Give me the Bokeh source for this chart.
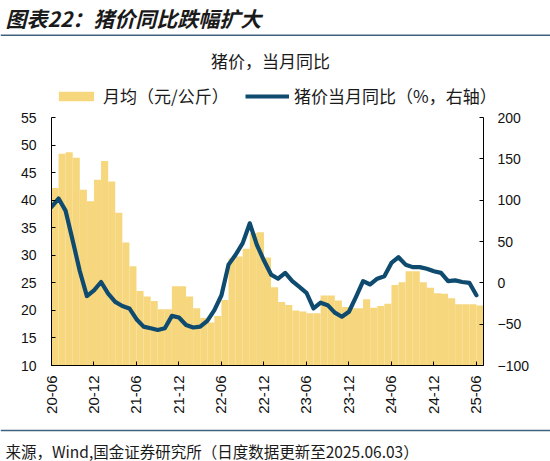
import math
from bokeh.plotting import figure
from bokeh.layouts import column
from bokeh.models import (Range1d, LinearAxis, FixedTicker, Label, Span, Legend, LegendItem,
                          ColumnDataSource)
from bokeh.embed import file_html
from bokeh.resources import INLINE

# ---------------- data ----------------
months = [
    "20-06", "20-07", "20-08", "20-09", "20-10", "20-11", "20-12",
    "21-01", "21-02", "21-03", "21-04", "21-05", "21-06", "21-07", "21-08", "21-09", "21-10", "21-11", "21-12",
    "22-01", "22-02", "22-03", "22-04", "22-05", "22-06", "22-07", "22-08", "22-09", "22-10", "22-11", "22-12",
    "23-01", "23-02", "23-03", "23-04", "23-05", "23-06", "23-07", "23-08", "23-09", "23-10", "23-11", "23-12",
    "24-01", "24-02", "24-03", "24-04", "24-05", "24-06", "24-07", "24-08", "24-09", "24-10", "24-11", "24-12",
    "25-01", "25-02", "25-03", "25-04", "25-05", "25-06",
]

# 月均（元/公斤）
price = [
    42.2, 48.4, 48.7, 47.7, 41.9, 39.8, 43.7,
    47.1, 43.4, 37.7, 32.3, 28.0, 23.5, 22.5, 21.7, 20.2, 20.2, 24.4, 24.4,
    22.5, 20.4, 18.6, 17.8, 19.0, 21.9, 29.4, 29.8, 31.2, 34.0, 34.2, 29.6,
    24.2, 21.5, 21.0, 20.0, 19.8, 19.5, 19.5, 22.7, 22.7, 21.8, 20.6, 20.4,
    20.4, 22.0, 20.5, 20.8, 21.2, 24.6, 25.1, 27.1, 27.1, 25.1, 24.1, 23.1,
    23.0, 22.2, 21.1, 21.1, 21.1, 20.9,
]

# 猪价当月同比（%，右轴）
yoy = [
    92, 102, 87, 51, 14, -16, -9,
    1, -13, -23, -28, -31, -44, -53, -55, -57, -55, -40, -42,
    -51, -54, -53, -46, -33, -15, 22, 34, 48, 72, 46, 27,
    10, 5, 12, 2, -5, -12, -31, -24, -27, -36, -41, -35,
    -17, 2, -2, 5, 8, 24, 31, 22, 19, 19, 17, 14,
    12, 2, 3, 1, 0, -15,
]

tick_months = ["20-06", "20-12", "21-06", "21-12", "22-06", "22-12",
               "23-06", "23-12", "24-06", "24-12", "25-06"]
left_ticks = [10, 15, 20, 25, 30, 35, 40, 45, 50, 55]
right_ticks = [-100, -50, 0, 50, 100, 150, 200]

title_text = "图表22：猪价同比跌幅扩大"
subtitle_text = "猪价，当月同比"
legend_bar = "月均（元/公斤）"
legend_line = "猪价当月同比（%，右轴）"
footer_text = "来源，Wind,国金证券研究所（日度数据更新至2025.06.03）"

# ---------------- styles ----------------
BAR_COLOR = "#F6D77E"
LINE_COLOR = "#0E4B6F"
RULE_COLOR = "#40607F"
TEXT_COLOR = "#1a1a1a"
CJK = "Noto Sans CJK SC"
NUM = "Liberation Sans"
W = 550
HDR_H = 108
FTR_H = 33

n = len(months)
src = ColumnDataSource(data=dict(
    bar_x=[i + 0.5 for i in range(n)],
    line_x=[i for i in range(n)],
    price=price,
    yoy=yoy,
))


def bare_fig(h):
    f = figure(frame_width=W, frame_height=h, x_range=Range1d(0, W), y_range=Range1d(h, 0),
               output_backend="svg", toolbar_location=None, frame_align=False,
               min_border_left=0, min_border_right=0, min_border_top=0, min_border_bottom=0,
               x_axis_type=None, y_axis_type=None)
    f.outline_line_color = None
    f.grid.visible = False
    return f


# ---------------- header: title, subtitle, legend ----------------
hdr = bare_fig(HDR_H)
hdr.add_layout(Label(x=5, y=17, text=title_text, text_font=CJK, text_font_size="21px",
                     text_font_style="bold italic", text_color=TEXT_COLOR,
                     text_baseline="middle", text_align="left"))
hdr.add_layout(Span(location=34.7, dimension="width", line_color=RULE_COLOR, line_width=1.6))
hdr.add_layout(Label(x=270, y=60, text=subtitle_text, text_font=CJK, text_font_size="17px",
                     text_color=TEXT_COLOR, text_baseline="middle", text_align="center"))

# legend swatches reuse the chart's own data (hidden renderers, legend only)
leg_bar_r = hdr.vbar(x="bar_x", top="price", width=1, source=src,
                     fill_color=BAR_COLOR, line_color=None, visible=False)
leg_line_r = hdr.line(x="line_x", y="yoy", source=src,
                      line_color=LINE_COLOR, line_width=4.2, visible=False)


def make_legend(label, r, x):
    return Legend(items=[LegendItem(label=label, renderers=[r])], location=(x, 0),
                  orientation="horizontal", glyph_width=44, glyph_height=12,
                  label_standoff=5, padding=0, margin=0, spacing=0,
                  border_line_color=None, background_fill_alpha=0,
                  label_text_font=CJK, label_text_font_size="17px",
                  label_text_color=TEXT_COLOR, label_height=12)


hdr.add_layout(make_legend(legend_bar, leg_bar_r, 54))
hdr.add_layout(make_legend(legend_line, leg_line_r, 245))

# ---------------- main chart ----------------
p = figure(frame_width=432, frame_height=248, output_backend="svg", toolbar_location=None,
           x_range=Range1d(0, n), y_range=Range1d(10, 55), frame_align=False,
           min_border_left=51, min_border_right=67, min_border_top=9, min_border_bottom=63)
p.outline_line_color = None
p.grid.visible = False

p.extra_y_ranges = {"yoy": Range1d(-100, 200)}

p.vbar(x="bar_x", top="price", bottom=p.y_range.start, width=1.0, source=src,
       fill_color=BAR_COLOR, line_color=None)
p.line(x="line_x", y="yoy", source=src, y_range_name="yoy", line_color=LINE_COLOR,
       line_width=4.2, line_join="round", line_cap="round")


def style_axis(ax):
    ax.axis_line_color = "black"
    ax.axis_line_width = 1
    ax.major_tick_line_color = "black"
    ax.major_tick_in = 4
    ax.major_tick_out = 0
    ax.minor_tick_line_color = None
    ax.major_label_text_font = NUM
    ax.major_label_text_font_size = "14px"
    ax.major_label_text_color = "#111111"


yax = p.yaxis[0]
yax.ticker = FixedTicker(ticks=left_ticks)
style_axis(yax)
yax.major_label_standoff = 15

rax = LinearAxis(y_range_name="yoy", ticker=FixedTicker(ticks=right_ticks))
style_axis(rax)
rax.major_label_standoff = 14
p.add_layout(rax, "right")

xax = p.xaxis[0]
xt = [months.index(m) for m in tick_months]
xax.ticker = FixedTicker(ticks=xt)
xax.major_label_overrides = {t: m for t, m in zip(xt, tick_months)}
style_axis(xax)
xax.major_label_orientation = math.pi / 2
xax.major_label_standoff = 10
xax.major_label_text_font_size = "15px"

# ---------------- footer ----------------
ftr = bare_fig(FTR_H)
ftr.add_layout(Span(location=2, dimension="width", line_color=RULE_COLOR, line_width=1.3))
ftr.add_layout(Label(x=5, y=22, text=footer_text, text_font=CJK, text_font_size="15.5px",
                     text_color=TEXT_COLOR, text_baseline="middle", text_align="left"))

layout = column(hdr, p, ftr, spacing=0)
open("out.html", "w").write(file_html(layout, INLINE))
